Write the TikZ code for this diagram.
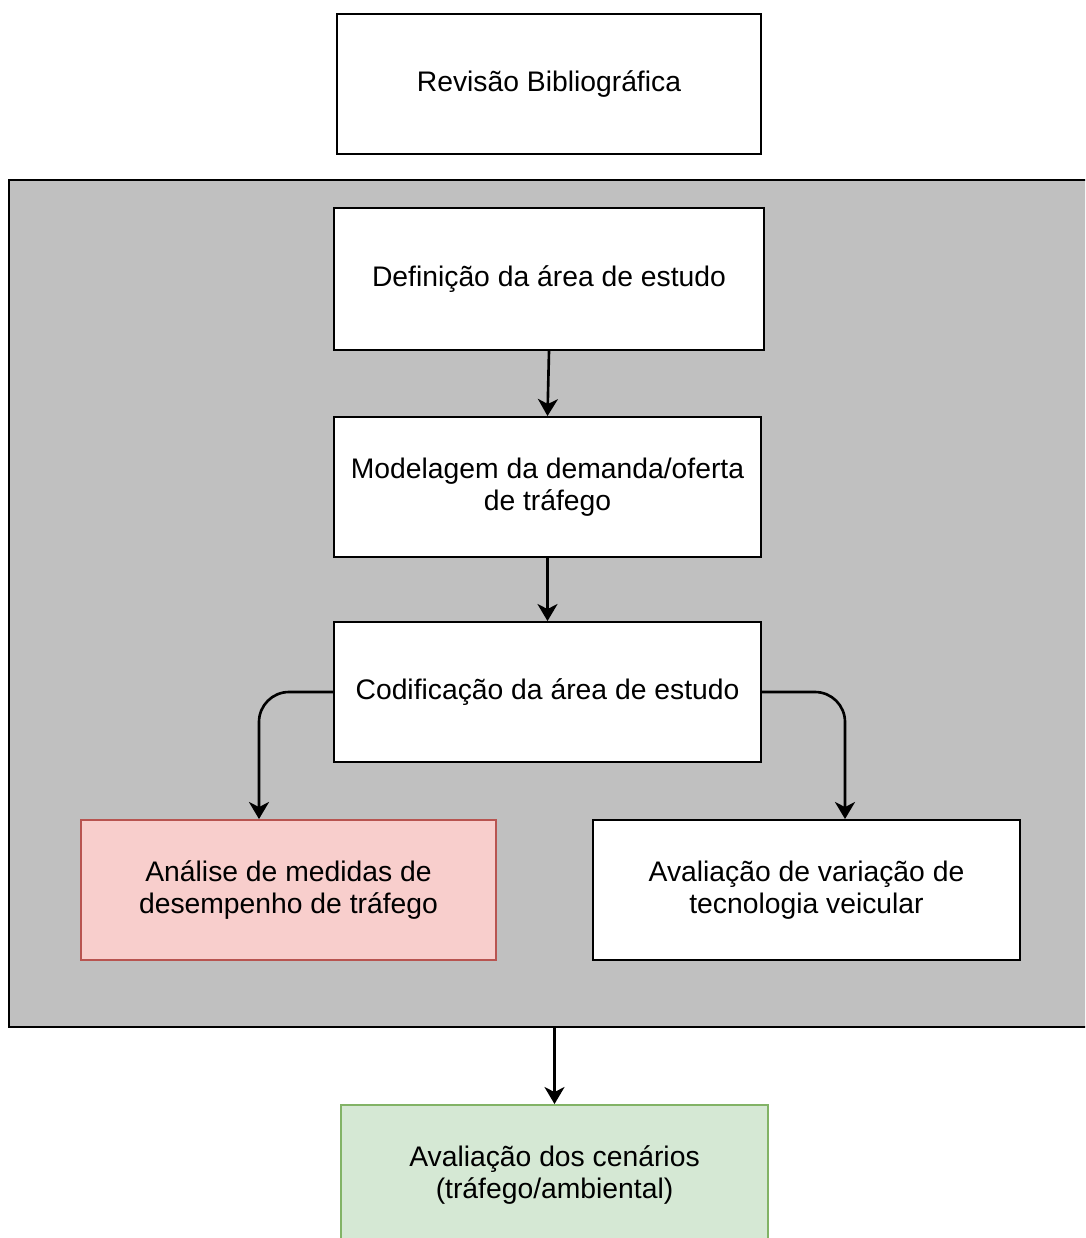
\documentclass[tikz,border=0pt]{standalone}
\usepackage{fontspec}
\setmainfont{Liberation Sans}
\usetikzlibrary{calc, arrows.meta, positioning}

\definecolor{groupgrey}{HTML}{C0C0C0}
\definecolor{redfill}{HTML}{F8CECC}
\definecolor{redline}{HTML}{B85450}
\definecolor{greenfill}{HTML}{D5E8D4}
\definecolor{greenline}{HTML}{82B366}

\begin{document}
\begin{tikzpicture}[
    >={Stealth[length=3.4mm, width=4mm, inset=1mm]},
    stepbox/.style={draw, line width=1.1pt, fill=white, rectangle, minimum width=8.54cm,
        minimum height=2.8cm, align=center, font=\fontsize{16.1pt}{18.2pt}\selectfont},
    flow/.style={->, line width=1.5pt, rounded corners=0.6cm}
]
    % Frame
    \useasboundingbox (0,0) rectangle (21.7,-24.76);
    \clip (0,0) rectangle (21.7,-24.76);

    % Grey group
    \node[draw, line width=1.3pt, fill=groupgrey, minimum width=22.22cm, minimum height=16.94cm] (grp) at (11.29,-12.07) {};

    % Steps
    \node[stepbox, minimum width=8.48cm] (rev) at (10.98,-1.68) {Revisão Bibliográfica};
    \node[stepbox, minimum width=8.6cm, minimum height=2.84cm] (def) at (10.98,-5.58) {Definição da área de estudo};
    \node[stepbox] (mod) at (10.95,-9.74) {Modelagem da demanda/oferta\\de tráfego};
    \node[stepbox] (cod) at (10.95,-13.84) {Codificação da área de estudo};
    \node[stepbox, fill=redfill, draw=redline, minimum width=8.3cm] (ana) at (5.77,-17.8) {Análise de medidas de\\desempenho de tráfego};
    \node[stepbox] (ava) at (16.13,-17.8) {Avaliação de variação de\\tecnologia veicular};
    \node[stepbox, fill=greenfill, draw=greenline] (cen) at (11.09,-23.5) {Avaliação dos cenários\\(tráfego/ambiental)};

    % Arrow ends
    \coordinate (anaIn) at ($(ana.north)+(-0.59,0)$);
    \coordinate (avaIn) at ($(ava.north)+(0.77,0)$);

    % Connectors
    \draw[flow] (def.south) -- (mod.north);
    \draw[flow] (mod.south) -- (cod.north);
    \draw[flow] (cod.west) -| (anaIn);
    \draw[flow] (cod.east) -| (avaIn);
    \draw[flow] (grp.south -| cen.north) -- (cen.north);
\end{tikzpicture}
\end{document}
